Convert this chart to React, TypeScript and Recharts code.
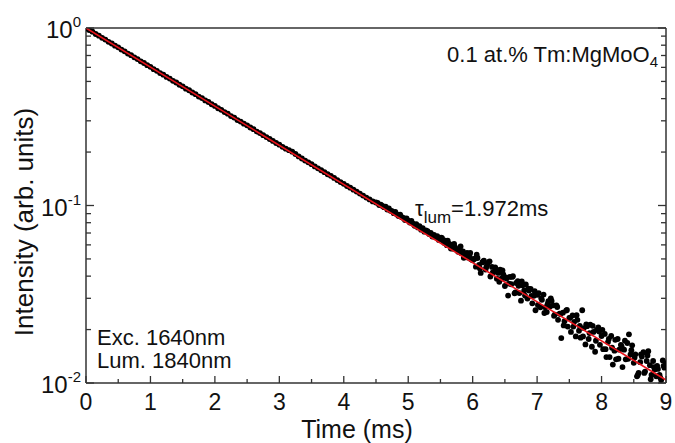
import React from "react";
import { ComposedChart, Scatter, XAxis, YAxis } from "recharts";

// measured decay, [time (ms), intensity]
const earlyDecay: [number, number][] = [
  [0.0, 0.995], [0.05, 0.973], [0.1, 0.953], [0.15, 0.925], [0.2, 0.905], [0.25, 0.88],
  [0.3, 0.861], [0.35, 0.836], [0.4, 0.818], [0.45, 0.795], [0.5, 0.778], [0.55, 0.756],
  [0.6, 0.739], [0.65, 0.718], [0.7, 0.703], [0.75, 0.684], [0.8, 0.668], [0.85, 0.649],
  [0.9, 0.635], [0.95, 0.617], [1.0, 0.604], [1.05, 0.586], [1.1, 0.574], [1.15, 0.557],
  [1.2, 0.546], [1.25, 0.53], [1.3, 0.519], [1.35, 0.504], [1.4, 0.493], [1.45, 0.479],
  [1.5, 0.469], [1.55, 0.455], [1.6, 0.446], [1.65, 0.433], [1.7, 0.424], [1.75, 0.411],
  [1.8, 0.403], [1.85, 0.391], [1.9, 0.383], [1.95, 0.372], [2.0, 0.364], [2.05, 0.353],
  [2.1, 0.346], [2.15, 0.336], [2.2, 0.329], [2.25, 0.319], [2.3, 0.313], [2.35, 0.303],
  [2.4, 0.297], [2.45, 0.289], [2.5, 0.283], [2.55, 0.275], [2.6, 0.269], [2.65, 0.261],
  [2.7, 0.256], [2.75, 0.249], [2.8, 0.243], [2.85, 0.237], [2.9, 0.231], [2.95, 0.225],
  [3.0, 0.22], [3.05, 0.214], [3.1, 0.209], [3.15, 0.205], [3.2, 0.201], [3.25, 0.195],
  [3.3, 0.189], [3.35, 0.184], [3.4, 0.179], [3.45, 0.175], [3.5, 0.171], [3.55, 0.166],
  [3.6, 0.162], [3.65, 0.158], [3.7, 0.154], [3.75, 0.15], [3.8, 0.147], [3.85, 0.143],
  [3.9, 0.139], [3.95, 0.1355], [4.0, 0.1325], [4.05, 0.1288], [4.1, 0.126], [4.15, 0.1228],
  [4.2, 0.1198], [4.25, 0.1168], [4.3, 0.1138], [4.35, 0.1108], [4.4, 0.1082], [4.45, 0.1054],
];

const tailDecay: [number, number][] = [
  [4.5, 0.104], [4.525, 0.1035], [4.55, 0.1005], [4.575, 0.1012], [4.6, 0.0995], [4.625, 0.0978],
  [4.65, 0.0985], [4.675, 0.0948], [4.7, 0.0962], [4.725, 0.0935], [4.75, 0.0928], [4.775, 0.0905],
  [4.8, 0.0921], [4.825, 0.089], [4.85, 0.0872], [4.875, 0.0889], [4.9, 0.086], [4.925, 0.0851],
  [4.95, 0.0828], [4.975, 0.0845], [5.0, 0.0822], [5.025, 0.0801], [5.05, 0.0818], [5.075, 0.079],
  [5.1, 0.0768], [5.125, 0.0785], [5.15, 0.0752], [5.175, 0.0766], [5.2, 0.0731], [5.225, 0.0745],
  [5.25, 0.0712], [5.275, 0.0725], [5.3, 0.0718], [5.325, 0.069], [5.35, 0.0702], [5.375, 0.0668],
  [5.4, 0.0683], [5.425, 0.0662], [5.45, 0.0672], [5.475, 0.064], [5.5, 0.0648], [5.525, 0.0655],
  [5.55, 0.0625], [5.575, 0.0633], [5.6, 0.0598], [5.625, 0.0612], [5.65, 0.059], [5.675, 0.0602],
  [5.7, 0.0571], [5.725, 0.0582], [5.75, 0.0566], [5.775, 0.0548], [5.8, 0.056], [5.825, 0.0538],
  [5.85, 0.0551], [5.875, 0.0523], [5.9, 0.0532], [5.925, 0.0509], [5.95, 0.0524], [5.975, 0.0498],
  [6.0, 0.0492], [6.025, 0.05], [6.05, 0.0452], [6.075, 0.0506], [6.1, 0.0463], [6.125, 0.0417],
  [6.15, 0.0478], [6.175, 0.0489], [6.2, 0.0436], [6.225, 0.0464], [6.25, 0.048], [6.275, 0.0398],
  [6.3, 0.0451], [6.325, 0.0421], [6.35, 0.0448], [6.375, 0.0387], [6.4, 0.0417], [6.425, 0.0435],
  [6.45, 0.0388], [6.475, 0.0409], [6.5, 0.0352], [6.525, 0.0388], [6.55, 0.0311], [6.575, 0.0396],
  [6.6, 0.036], [6.625, 0.04], [6.65, 0.032], [6.675, 0.0366], [6.7, 0.0375], [6.725, 0.0321],
  [6.75, 0.0291], [6.775, 0.0355], [6.8, 0.0332], [6.825, 0.0359], [6.85, 0.0299], [6.875, 0.0332],
  [6.9, 0.0339], [6.925, 0.0281], [6.95, 0.031], [6.975, 0.0257], [7.0, 0.0314], [7.025, 0.0321],
  [7.05, 0.0267], [7.075, 0.0294], [7.1, 0.0315], [7.125, 0.0267], [7.15, 0.0251], [7.175, 0.0289],
  [7.2, 0.027], [7.225, 0.029], [7.25, 0.0274], [7.275, 0.0243], [7.3, 0.0274], [7.325, 0.0227],
  [7.35, 0.0246], [7.375, 0.0179], [7.4, 0.0249], [7.425, 0.0223], [7.45, 0.0256], [7.475, 0.0208],
  [7.5, 0.0233], [7.525, 0.0194], [7.55, 0.024], [7.575, 0.0221], [7.6, 0.0183], [7.625, 0.0227],
  [7.65, 0.0197], [7.675, 0.018], [7.7, 0.0257], [7.725, 0.0204], [7.75, 0.0165], [7.775, 0.0209],
  [7.8, 0.0177], [7.825, 0.0213], [7.85, 0.016], [7.875, 0.0194], [7.9, 0.015], [7.925, 0.0199],
  [7.95, 0.0206], [7.975, 0.0164], [8.0, 0.0184], [8.025, 0.0155], [8.05, 0.0189], [8.075, 0.014],
  [8.1, 0.017], [8.125, 0.014], [8.15, 0.0184], [8.175, 0.0127], [8.2, 0.0152], [8.225, 0.0136],
  [8.25, 0.0177], [8.275, 0.0154], [8.3, 0.0164], [8.325, 0.0123], [8.35, 0.0154], [8.375, 0.0136],
  [8.4, 0.0168], [8.425, 0.0188], [8.45, 0.0145], [8.475, 0.0163], [8.5, 0.013], [8.525, 0.0145],
  [8.55, 0.0109], [8.575, 0.0114], [8.6, 0.0131], [8.625, 0.0141], [8.65, 0.0149], [8.675, 0.0116],
  [8.7, 0.0133], [8.725, 0.0151], [8.75, 0.0126], [8.775, 0.0111], [8.8, 0.0133], [8.825, 0.0119],
  [8.85, 0.0109], [8.875, 0.012], [8.9, 0.0111], [8.925, 0.0104], [8.95, 0.0134], [8.975, 0.0122],
  [9.0, 0.0129],
];

// second channel of samples in the noisy tail
const tailDecayB: [number, number][] = [
  [5.5125, 0.066], [5.5625, 0.0614], [5.6125, 0.0633], [5.6625, 0.0572], [5.7125, 0.0607],
  [5.7625, 0.0565], [5.8125, 0.0588], [5.8625, 0.0507], [5.9125, 0.054], [5.9625, 0.0541],
  [6.0125, 0.0499], [6.0625, 0.0528], [6.1125, 0.0442], [6.1625, 0.0484], [6.2125, 0.045],
  [6.2625, 0.0485], [6.3125, 0.042], [6.3625, 0.0433], [6.4125, 0.0372], [6.4625, 0.0431],
  [6.5125, 0.0394], [6.5625, 0.0363], [6.6125, 0.0396], [6.6625, 0.0324], [6.7125, 0.0353],
  [6.7625, 0.0374], [6.8125, 0.0311], [6.8625, 0.034], [6.9125, 0.031], [6.9625, 0.0329],
  [7.0125, 0.0275], [7.0625, 0.0301], [7.1125, 0.0248], [7.1625, 0.0278], [7.2125, 0.03],
  [7.2625, 0.0239], [7.3125, 0.0268], [7.3625, 0.0245], [7.4125, 0.0211], [7.4625, 0.0258],
  [7.5125, 0.0233], [7.5625, 0.0208], [7.6125, 0.0241], [7.6625, 0.021], [7.7125, 0.0183],
  [7.7625, 0.0214], [7.8125, 0.0191], [7.8625, 0.021], [7.9125, 0.0173], [7.9625, 0.0195],
  [8.0125, 0.0199], [8.0625, 0.0155], [8.1125, 0.0177], [8.1625, 0.0158], [8.2125, 0.0175],
  [8.2625, 0.0137], [8.3125, 0.016], [8.3625, 0.0173], [8.4125, 0.0137], [8.4625, 0.0153],
  [8.5125, 0.0139], [8.5625, 0.0111], [8.6125, 0.0145], [8.6625, 0.0114], [8.7125, 0.0143],
  [8.7625, 0.0105], [8.8125, 0.0123], [8.8625, 0.0125], [8.9125, 0.0107], [8.9625, 0.0125],
];

// single-exponential fit, tau = 1.972 ms
const fitTimes = [0, 9];
const fitValues = [1, 0.0104];

const xTicks = [0, 0.5, 1, 1.5, 2, 2.5, 3, 3.5, 4, 4.5, 5, 5.5, 6, 6.5, 7, 7.5, 8, 8.5, 9];
const yTicks = [
  0.01, 0.02, 0.03, 0.04, 0.05, 0.06, 0.07, 0.08, 0.09,
  0.1, 0.2, 0.3, 0.4, 0.5, 0.6, 0.7, 0.8, 0.9, 1,
];
const decadeExponents: Record<string, string> = { "1": "0", "0.1": "-1", "0.01": "-2" };

const points = [...earlyDecay, ...tailDecay, ...tailDecayB].map(([t, i]) => ({ t, i }));
const fitData = fitTimes.map((t, k) => ({ t, i: fitValues[k] }));

const FONT = '"Liberation Sans", Arial, sans-serif';
const AXIS = "#333";
const INK = "#111";

const isDecade = (v: number) => Math.abs(Math.log10(v) - Math.round(Math.log10(v))) < 1e-6;

const BottomTick = ({ x, y, payload }: any) => {
  const major = Number.isInteger(payload.value);
  return (
    <g>
      <line x1={x} x2={x} y1={y} y2={y - (major ? 7 : 4)} stroke={AXIS} strokeWidth={1.3} />
      {major && (
        <text x={x} y={y + 27} textAnchor="middle" fontSize={23} fontFamily={FONT} fill={INK}>
          {payload.value}
        </text>
      )}
    </g>
  );
};

const TopTick = ({ x, y, payload }: any) => {
  const major = Number.isInteger(payload.value);
  return <line x1={x} x2={x} y1={y} y2={y + (major ? 7 : 4)} stroke={AXIS} strokeWidth={1.3} />;
};

const LeftTick = ({ x, y, payload }: any) => {
  const major = isDecade(payload.value);
  const exp = decadeExponents[String(payload.value)];
  return (
    <g>
      <line x1={x} x2={x + (major ? 8 : 5)} y1={y} y2={y} stroke={AXIS} strokeWidth={1.3} />
      {major && (
        <text x={x - 5} y={y + 10} textAnchor="end" fontSize={24} fontFamily={FONT} fill={INK}>
          10
          <tspan fontSize={15} dy={-11}>{exp}</tspan>
        </text>
      )}
    </g>
  );
};

const RightTick = ({ x, y, payload }: any) => {
  const major = isDecade(payload.value);
  return <line x1={x} x2={x - (major ? 8 : 5)} y1={y} y2={y} stroke={AXIS} strokeWidth={1.3} />;
};

const Dot = (props: any) => <circle cx={props.cx} cy={props.cy} r={2.9} fill="#000" />;
const NoDot = () => <g />;

export default function App() {
  return (
    <div style={{ position: "absolute", left: 0, top: 0, width: 675, height: 443, background: "#fff" }}>
      <ComposedChart width={675} height={443} margin={{ top: 0, right: 0, bottom: 0, left: 0 }}>
        <XAxis
          dataKey="t"
          type="number"
          domain={[0, 9]}
          ticks={xTicks}
          interval={0}
          allowDataOverflow
          height={60}
          tickSize={0}
          tickMargin={0}
          tickLine={false}
          tick={<BottomTick />}
          axisLine={{ stroke: AXIS, strokeWidth: 1.5 }}
        />
        <XAxis
          xAxisId="top"
          orientation="top"
          type="number"
          domain={[0, 9]}
          ticks={xTicks}
          interval={0}
          height={28}
          tickSize={0}
          tickMargin={0}
          tickLine={false}
          tick={<TopTick />}
          axisLine={{ stroke: AXIS, strokeWidth: 1.5 }}
        />
        <YAxis
          type="number"
          scale="log"
          domain={[0.01, 1]}
          ticks={yTicks}
          interval={0}
          allowDataOverflow
          width={86}
          tickSize={0}
          tickMargin={0}
          tickLine={false}
          tick={<LeftTick />}
          axisLine={{ stroke: AXIS, strokeWidth: 1.5 }}
        />
        <YAxis
          yAxisId="right"
          orientation="right"
          type="number"
          scale="log"
          domain={[0.01, 1]}
          ticks={yTicks}
          interval={0}
          allowDataOverflow
          width={9}
          tickSize={0}
          tickMargin={0}
          tickLine={false}
          tick={<RightTick />}
          axisLine={{ stroke: AXIS, strokeWidth: 1.5 }}
        />
        <Scatter data={points} dataKey="i" shape={<Dot />} isAnimationActive={false} />
        {/* fit drawn as a connected scatter so it sits on top of the data */}
        <Scatter
          data={fitData}
          dataKey="i"
          shape={<NoDot />}
          line={{ stroke: "#e8141c", strokeWidth: 1.6 }}
          isAnimationActive={false}
        />
      </ComposedChart>
      <svg
        width={675}
        height={443}
        style={{ position: "absolute", left: 0, top: 0, pointerEvents: "none" }}
        fontFamily={FONT}
        fill={INK}
      >
        <text x={658} y={62} textAnchor="end" fontSize={22}>
          0.1 at.% Tm:MgMoO<tspan fontSize={15} dy={5}>4</tspan>
        </text>
        <text x={415} y={216} fontSize={22}>
          τ<tspan fontSize={17} dy={7}>lum</tspan>
          <tspan dy={-7}>=1.972ms</tspan>
        </text>
        <text x={97} y={345} fontSize={22}>Exc. 1640nm</text>
        <text x={97} y={368} fontSize={22}>Lum. 1840nm</text>
        <text x={357} y={438} textAnchor="middle" fontSize={25}>Time (ms)</text>
        <text x={33} y={222} textAnchor="middle" fontSize={26} transform="rotate(-90 33 222)">
          Intensity (arb. units)
        </text>
      </svg>
    </div>
  );
}
